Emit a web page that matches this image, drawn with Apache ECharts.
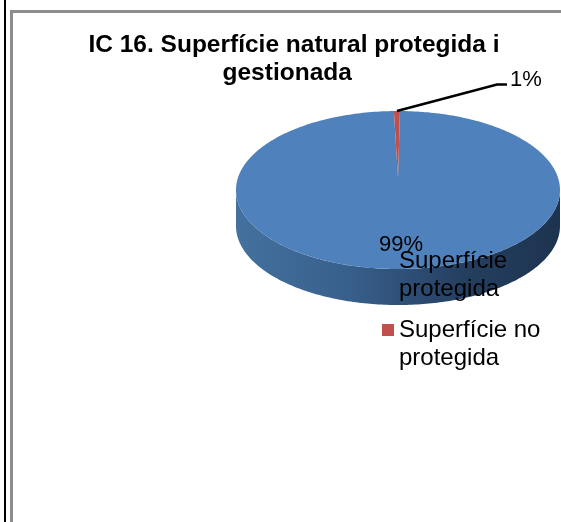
<!DOCTYPE html>
<html>
<head>
<meta charset="utf-8">
<style>
  html, body { margin: 0; padding: 0; background: #fff; overflow: hidden; }
  #chart { width: 561px; height: 522px; }
</style>
<script src="https://cdn.jsdelivr.net/npm/echarts@6/dist/echarts.min.js"></script>
</head>
<body>
<div id="chart"></div>
<script>
const titleText = 'IC 16. Superfície natural protegida i\ngestionada  ';
const sliceNames = ['Superfície protegida', 'Superfície no protegida'];
const legendLabels = ['Superfície\nprotegida', 'Superfície no\nprotegida'];
const sliceValues = [99.4, 0.6];
const sliceLabels = ['99%', '1%'];
const sliceColors = ['#4f81bd', '#c0504d'];

const chart = echarts.init(document.getElementById('chart'));

// squashed pie, the slices are worked out from sliceValues
const cx = 398, cy = 190, rx = 162, ry = 79, depth = 36, apexY = 178;
const startDeg = 0.7;
const total = sliceValues.reduce((a, b) => a + b, 0);

function rimPoint(deg, dy) {
  const t = deg * Math.PI / 180;
  return [cx + rx * Math.sin(t), cy - ry * Math.cos(t) + (dy || 0)];
}

function arcPoints(from, to, dy) {
  const pts = [];
  const n = Math.max(2, Math.ceil(Math.abs(to - from)));
  for (let i = 0; i <= n; i++) pts.push(rimPoint(from + (to - from) * i / n, dy));
  return pts;
}

function renderSlice(params, api) {
  const idx = params.seriesIndex;
  let from = startDeg;
  for (let i = 0; i < idx; i++) from += sliceValues[i] / total * 360;
  const to = from + api.value(0) / total * 360;
  const children = [];

  // the wall is only visible along the front half of the pie
  const wallFrom = Math.max(from, 90), wallTo = Math.min(to, 270);
  if (wallTo > wallFrom) {
    const top = arcPoints(wallFrom, wallTo, 0);
    const bottom = arcPoints(wallTo, wallFrom, depth);
    children.push({
      type: 'polygon',
      shape: { points: top.concat(bottom) },
      style: {
        fill: new echarts.graphic.LinearGradient(0, 0, 1, 0, [
          { offset: 0, color: '#44719f' },
          { offset: 0.35, color: '#385f8c' },
          { offset: 0.7, color: '#253f60' },
          { offset: 1, color: '#1d3450' }
        ])
      }
    });
  }

  children.push({
    type: 'polygon',
    shape: { points: [[cx, apexY]].concat(arcPoints(from, to, 0)) },
    style: { fill: sliceColors[idx] }
  });

  if (idx === 0) {
    children.push({
      type: 'text',
      style: {
        x: 401, y: 244.5, text: sliceLabels[idx], fill: '#000',
        font: '22px "Liberation Sans", Arial, sans-serif',
        align: 'center', verticalAlign: 'middle'
      }
    });
  } else {
    const mid = rimPoint((from + to) / 2, 0);
    children.push({
      type: 'polyline',
      shape: { points: [mid, [497, 84.5], [507, 84.5]] },
      style: { stroke: '#000', lineWidth: 2.5, fill: null }
    });
    children.push({
      type: 'text',
      style: {
        x: 510, y: 80, text: sliceLabels[idx], fill: '#000',
        font: '22px "Liberation Sans", Arial, sans-serif',
        align: 'left', verticalAlign: 'middle'
      }
    });
  }
  return { type: 'group', children: children };
}

// blank first line keeps the marker level with the first line of text
function legendFor(i, top) {
  return {
    left: 382, top: top, orient: 'vertical',
    data: [sliceNames[i]],
    icon: 'rect', itemWidth: 12, itemHeight: 12, itemGap: 0, padding: 0,
    formatter: () => '\n' + legendLabels[i],
    textStyle: {
      color: '#000', fontFamily: '"Liberation Sans", Arial, sans-serif',
      fontSize: 24, lineHeight: 28
    }
  };
}

const option = {
  animation: false,
  backgroundColor: '#fff',
  title: {
    text: titleText,
    left: 294, top: 31, textAlign: 'center', padding: 0,
    textStyle: {
      color: '#000', fontFamily: '"Liberation Sans", Arial, sans-serif',
      fontSize: 24.5, fontWeight: 'bold', lineHeight: 28
    }
  },
  legend: [legendFor(0, 219), legendFor(1, 288)],
  graphic: [
    { type: 'rect', silent: true, shape: { x: 4, y: 0, width: 2, height: 522 }, style: { fill: '#000' } },
    { type: 'rect', silent: true, shape: { x: 10, y: 10, width: 3, height: 512 }, style: { fill: '#8c8c8c' } },
    { type: 'rect', silent: true, shape: { x: 10, y: 10, width: 551, height: 3 }, style: { fill: '#8c8c8c' } }
  ],
  series: sliceNames.map((name, i) => ({
    type: 'custom',
    name: name,
    coordinateSystem: 'none',
    silent: true,
    itemStyle: { color: sliceColors[i] },
    data: [[sliceValues[i]]],
    renderItem: renderSlice
  }))
};

chart.setOption(option);
</script>
</body>
</html>
